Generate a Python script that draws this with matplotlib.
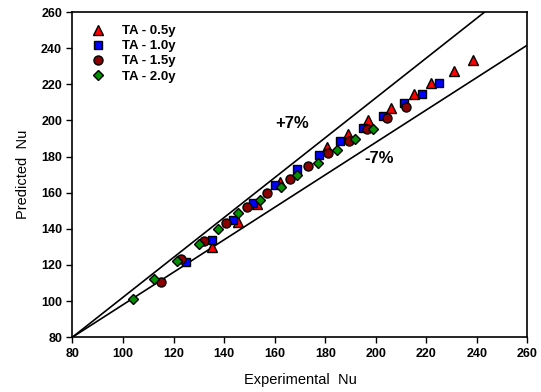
import matplotlib
matplotlib.use("Agg")
import matplotlib.pyplot as plt

plt.rcParams['font.family'] = ['Liberation Sans', 'DejaVu Sans']

# TA - 0.5y
exp_05 = [135, 145.5, 153, 162, 180.5, 189, 197, 206, 215, 222, 231, 238.5]
pred_05 = [130, 144, 154, 166, 185.5, 192.5, 200.5, 207, 214.5, 221, 227.5, 233.5]
# TA - 1.0y
exp_10 = [125, 135, 143.5, 151.5, 160, 168.7, 177.6, 186, 195, 202.7, 211, 218.4, 225]
pred_10 = [121.5, 134, 145, 154.5, 164.5, 173, 181, 188.8, 195.6, 202.6, 209.5, 214.5, 221]
# TA - 1.5y
exp_15 = [115, 123, 132, 140.7, 149, 157, 166, 173, 181.2, 189.5, 196.6, 204.5, 211.8]
pred_15 = [110.5, 123, 133.5, 143, 152, 160, 167.5, 175, 182, 188.6, 195.2, 201.2, 207.3]
# TA - 2.0y
exp_20 = [103.8, 112.4, 121.5, 130, 137.7, 145.3, 154, 162.5, 169, 177.2, 184.5, 191.8, 198.8]
pred_20 = [101, 112, 122, 131.5, 140, 148.5, 156, 163, 169.6, 176.2, 183.6, 189.5, 195.3]

ticks = [80, 100, 120, 140, 160, 180, 200, 220, 240, 260]

fig = plt.figure(figsize=(5.41, 3.92), dpi=100)
ax = fig.add_axes([0.134, 0.140, 0.841, 0.829])

# +/- 7 % bounds
ax.plot([80, 260 / 1.07], [80, 260], color='black', lw=1.2, zorder=1)
ax.plot([80, 260], [80, 260 * 0.93], color='black', lw=1.2, zorder=1)

ms = 6.5
ax.plot(exp_05, pred_05, '^', color='#ff0000', mec='black', mew=1.0, ms=ms + 0.5, label='TA - 0.5y', zorder=3)
ax.plot(exp_10, pred_10, 's', color='#0000ff', mec='black', mew=1.0, ms=ms - 0.5, label='TA - 1.0y', zorder=3)
ax.plot(exp_15, pred_15, 'o', color='#8b0000', mec='black', mew=1.0, ms=ms, label='TA - 1.5y', zorder=3)
ax.plot(exp_20, pred_20, 'D', color='#009000', mec='black', mew=1.0, ms=ms - 1, label='TA - 2.0y', zorder=3)

ax.text(167, 198.5, '+7%', fontsize=12, fontweight='bold', ha='center', va='center')
ax.text(201.5, 179, '-7%', fontsize=12, fontweight='bold', ha='center', va='center')

ax.set_xlim(80, 260)
ax.set_ylim(80, 260)
ax.set_xticks(ticks)
ax.set_yticks(ticks)
ax.tick_params(direction='out', length=4, width=1, labelsize=9)
for lab in ax.get_xticklabels() + ax.get_yticklabels():
    lab.set_fontweight('bold')
for sp in ax.spines.values():
    sp.set_linewidth(1.2)

ax.set_xlabel('Experimental  Nu', fontsize=10.5, labelpad=10)
ax.set_ylabel('Predicted  Nu', fontsize=10.5, labelpad=8)

leg = ax.legend(loc='upper left', bbox_to_anchor=(0.01, 0.985), frameon=False,
                prop={'weight': 'bold', 'size': 9.5}, handletextpad=0.8,
                labelspacing=0.22, borderaxespad=0.2)

fig.savefig('out.png', dpi=100)
